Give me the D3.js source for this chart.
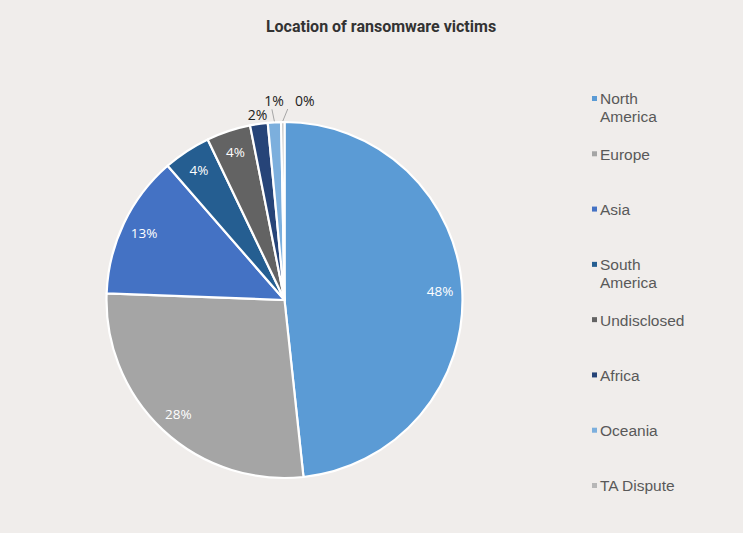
<!DOCTYPE html>
<html>
<head>
<meta charset="utf-8">
<script src="https://cdn.jsdelivr.net/npm/d3@7"></script>
<style>
  body { margin: 0; background: #f0edeb; }
  svg { display: block; }
</style>
</head>
<body>
<svg width="743" height="533"></svg>
<script>
// data
var regions = ["North America", "Europe", "Asia", "South America", "Undisclosed", "Africa", "Oceania", "TA Dispute"];
var shares = [48.3, 27.3, 13.0, 4.3, 4.0, 1.6, 1.2, 0.3];
var labels = ["48%", "28%", "13%", "4%", "4%", "2%", "1%", "0%"];
var colors = ["#5b9bd5", "#a5a5a5", "#4472c4", "#255e91", "#636363", "#264478", "#7cafdd", "#b7b7b7"];

var svg = d3.select("svg"),
    width = 743,
    height = 533,
    cx = 284.5, cy = 300, radius = 178;

svg.append("rect").attr("width", width).attr("height", height).attr("fill", "#f0edeb");

svg.append("text")
    .attr("x", 381)
    .attr("y", 32)
    .attr("text-anchor", "middle")
    .attr("font-family", "Roboto, sans-serif")
    .attr("font-weight", "bold")
    .attr("font-size", 16)
    .attr("fill", "#333")
    .text("Location of ransomware victims");

var data = regions.map(function(r, i) { return {name: r, value: shares[i], label: labels[i], color: colors[i]}; });

var pie = d3.pie().sort(null).value(function(d) { return d.value; });
var arc = d3.arc().innerRadius(0).outerRadius(radius);
var arcs = pie(data);

var g = svg.append("g").attr("transform", "translate(" + cx + "," + cy + ")");

g.selectAll("path")
  .data(arcs)
  .enter().append("path")
    .attr("d", arc)
    .attr("fill", function(d) { return d.data.color; })
    .attr("stroke", "#fff")
    .attr("stroke-width", 2.2)
    .attr("stroke-linejoin", "round");

function mid(d) { return (d.startAngle + d.endAngle) / 2; }
function pt(a, r) { return [Math.sin(a) * r, -Math.cos(a) * r]; }

// big slices: label inside
var inside = arcs.filter(function(d) { return d.data.value >= 3; });
g.selectAll("text.in")
  .data(inside)
  .enter().append("text")
    .attr("class", "in")
    .attr("x", function(d) { return pt(mid(d), radius * 0.875)[0]; })
    .attr("y", function(d) { return pt(mid(d), radius * 0.875)[1]; })
    .attr("dy", "0.35em")
    .attr("text-anchor", "middle")
    .attr("font-family", "'Open Sans', sans-serif")
    .attr("font-size", 13.5)
    .attr("fill", "#fff")
    .text(function(d) { return d.data.label; });

// small slices: label outside, with leader lines for the thinnest
var nudge = {"Africa": [0, 0], "Oceania": [0, -12], "TA Dispute": [22, -12]};
var outside = arcs.filter(function(d) { return d.data.value < 3; });
outside.forEach(function(d) {
  var a = mid(d);
  var p = pt(a, radius + 9);
  var n = nudge[d.data.name];
  var lx = p[0] + n[0], ly = p[1] + n[1];
  if (d.data.name !== "Africa") {
    var s = pt(a, radius + 1);
    g.append("polyline")
      .attr("points", [s, [lx - (n[0] > 0 ? 17 : 2), ly + 8]].join(" "))
      .attr("fill", "none")
      .attr("stroke", "#a6a6a6")
      .attr("stroke-width", 1);
  }
  g.append("text")
    .attr("x", lx)
    .attr("y", ly)
    .attr("dy", "0.35em")
    .attr("text-anchor", "middle")
    .attr("font-family", "'Open Sans', sans-serif")
    .attr("font-size", 14)
    .attr("fill", "#222")
    .text(d.data.label);
});

// legend
var legendY = d3.scalePoint().domain(regions).range([99, 486]);
var leg = svg.append("g").selectAll("g")
  .data(data)
  .enter().append("g")
    .attr("transform", function(d) { return "translate(592," + legendY(d.name) + ")"; });

leg.append("rect")
    .attr("x", 0).attr("y", -3)
    .attr("width", 5).attr("height", 5)
    .attr("fill", function(d) { return d.color; });

leg.append("text")
    .attr("x", 8)
    .attr("y", 0)
    .attr("dy", "0.35em")
    .attr("font-family", "'Liberation Sans', Arial, sans-serif")
    .attr("font-size", 15.5)
    .attr("fill", "#595959")
    .each(function(d) {
      var words = d.name.split(" ");
      var t = d3.select(this);
      if (d.name === "North America" || d.name === "South America") {
        t.append("tspan").attr("x", 8).text(words[0]);
        t.append("tspan").attr("x", 8).attr("dy", 18).text(words[1]);
      } else {
        t.text(d.name);
      }
    });
</script>
</body>
</html>
